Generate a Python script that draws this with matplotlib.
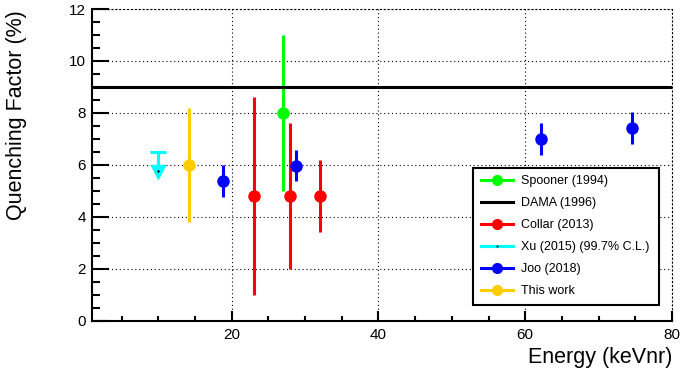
import numpy as np
import matplotlib
matplotlib.use('Agg')
import matplotlib.pyplot as plt
from matplotlib.lines import Line2D
from matplotlib.ticker import MultipleLocator

plt.rcParams['font.family'] = ['Liberation Sans', 'DejaVu Sans']

# Spooner (1994)
spooner_x = [27.0]
spooner_y = [8.0]
spooner_err = [3.0]

# DAMA (1996)
dama_qf = 9.0

# Collar (2013)
collar_x = [23.0, 28.0, 32.0]
collar_y = [4.8, 4.8, 4.8]
collar_err = [3.8, 2.8, 1.4]

# Xu (2015) upper limit (99.7% C.L.)
xu_x = [10.0]
xu_limit = [6.5]

# Joo (2018)
joo_x = [18.8, 28.7, 62.2, 74.6]
joo_y = [5.38, 5.97, 7.0, 7.41]
joo_err = [0.6, 0.6, 0.62, 0.62]

# This work
this_x = [14.2]
this_y = [6.0]
this_err = [2.2]

labels = ['Spooner (1994)', 'DAMA (1996)', 'Collar (2013)',
          'Xu (2015) (99.7% C.L.)', 'Joo (2018)', 'This work']
colors = ['#00ff00', 'black', '#ff0000', '#00ffff', '#0000ff', '#ffcc00']

fig = plt.figure(figsize=(6.87, 3.82), dpi=100)
ax = fig.add_axes([0.1335, 0.1605, 0.8445, 0.8159])

lw = 2.2
ms = 8

ax.errorbar(spooner_x, spooner_y, yerr=spooner_err, fmt='o', color=colors[0],
            ms=ms, elinewidth=lw, capsize=0, zorder=3)
ax.axhline(dama_qf, color=colors[1], lw=lw, zorder=3)
ax.errorbar(collar_x, collar_y, yerr=collar_err, fmt='o', color=colors[2],
            ms=ms, elinewidth=lw, capsize=0, zorder=3)

# upper limit: cap, stem and arrow head
xu_y = np.array(xu_limit)
ax.plot(xu_x, xu_y, marker='_', ms=12, mew=lw, color=colors[3], ls='none', zorder=3)
ax.vlines(xu_x, xu_y - 0.6, xu_y, color=colors[3], lw=lw, zorder=3)
ax.plot(xu_x, xu_y - 0.78, marker='v', ms=9.5, color=colors[3], ls='none', zorder=3)
ax.plot(xu_x, xu_y - 0.72, marker='.', ms=1.5, color='black', ls='none', zorder=4)

ax.errorbar(joo_x, joo_y, yerr=joo_err, fmt='o', color=colors[4],
            ms=ms, elinewidth=lw, capsize=0, zorder=3)
ax.errorbar(this_x, this_y, yerr=this_err, fmt='o', color=colors[5],
            ms=ms, elinewidth=lw, capsize=0, zorder=3)

ax.set_xlim(0.9, 80)
ax.set_ylim(0, 12)
ax.xaxis.set_major_locator(MultipleLocator(20))
ax.xaxis.set_minor_locator(MultipleLocator(5))
ax.yaxis.set_major_locator(MultipleLocator(2))
ax.yaxis.set_minor_locator(MultipleLocator(0.5))

ax.grid(which='major', color='black', linestyle=(0, (1, 2.5)), linewidth=0.8)
ax.set_axisbelow(True)

ax.tick_params(axis='both', which='both', direction='in', labelsize=11,
               top=False, right=False, width=1.5)
ax.tick_params(axis='y', which='major', length=12, pad=4)
ax.tick_params(axis='y', which='minor', length=6)
ax.tick_params(axis='x', which='major', length=7, pad=5)
ax.tick_params(axis='x', which='minor', length=3.5)

for s in ['left', 'bottom']:
    ax.spines[s].set_linewidth(1.5)
for s in ['top', 'right']:
    ax.spines[s].set_linewidth(0.8)
    ax.spines[s].set_linestyle((0, (1, 2.5)))

fig.text(17 / 687, 1 - 10 / 382, 'Quenching Factor (%)', rotation=90,
         ha='center', va='top', fontsize=15.5)
fig.text(672 / 687, 1 - 347 / 382, 'Energy (keVnr)', ha='right', va='top',
         fontsize=15.5)

handles = [
    Line2D([], [], color=colors[0], lw=lw, marker='o', ms=7),
    Line2D([], [], color=colors[1], lw=lw),
    Line2D([], [], color=colors[2], lw=lw, marker='o', ms=7),
    Line2D([], [], color=colors[3], lw=lw, marker='.', ms=1, mfc='black', mec='black'),
    Line2D([], [], color=colors[4], lw=lw, marker='o', ms=7),
    Line2D([], [], color=colors[5], lw=lw, marker='o', ms=7),
]
leg = ax.legend(handles, labels, loc='lower left',
                bbox_to_anchor=(0.6576, 0.0504, 0.32, 0.4417), mode='expand',
                borderaxespad=0, fontsize=9, fancybox=False, framealpha=1,
                edgecolor='black', handlelength=2.6, handletextpad=0.6,
                labelspacing=0.8, borderpad=0.6)
leg.get_frame().set_linewidth(1.5)

fig.savefig('out.png', dpi=100)
